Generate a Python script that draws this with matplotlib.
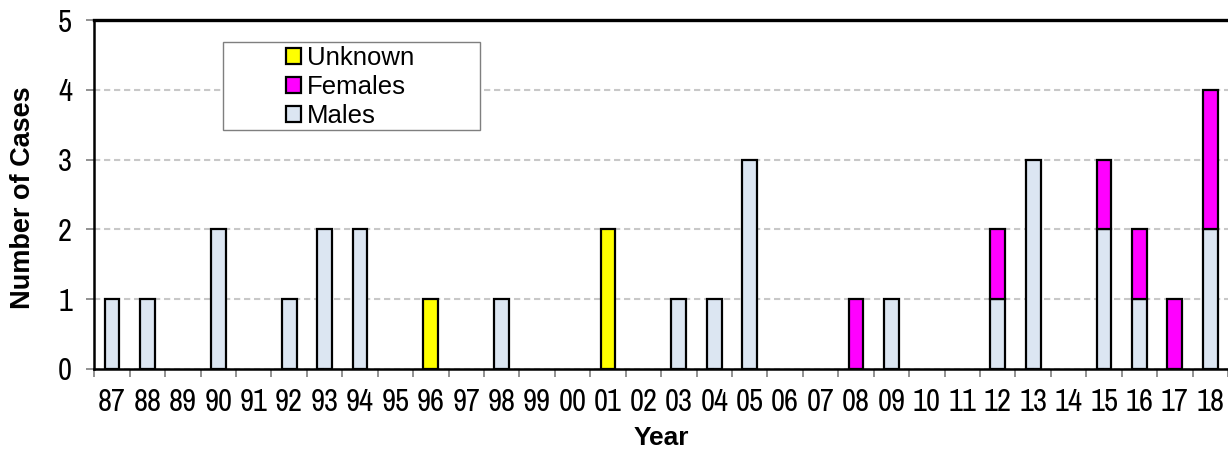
import matplotlib
matplotlib.use("Agg")
import matplotlib.pyplot as plt
import numpy as np
from matplotlib.patches import Rectangle, Patch

years = ['87', '88', '89', '90', '91', '92', '93', '94', '95', '96', '97', '98', '99', '00',
         '01', '02', '03', '04', '05', '06', '07', '08', '09', '10', '11', '12', '13', '14',
         '15', '16', '17', '18']
males = [1, 1, 0, 2, 0, 1, 2, 2, 0, 0, 0, 1, 0, 0, 0, 0, 1, 1, 3, 0, 0, 0, 1, 0, 0, 1, 3, 0, 2, 1, 0, 2]
females = [0, 0, 0, 0, 0, 0, 0, 0, 0, 0, 0, 0, 0, 0, 0, 0, 0, 0, 0, 0, 0, 1, 0, 0, 0, 1, 0, 0, 1, 1, 1, 2]
unknown = [0, 0, 0, 0, 0, 0, 0, 0, 0, 1, 0, 0, 0, 0, 2, 0, 0, 0, 0, 0, 0, 0, 0, 0, 0, 0, 0, 0, 0, 0, 0, 0]

C_M = '#DCE6F2'
C_F = '#FF00FF'
C_U = '#FFFF00'

narrow = ['Archivo Narrow', 'Liberation Sans', 'DejaVu Sans']
arial = ['Liberation Sans', 'DejaVu Sans']

fig = plt.figure(figsize=(12.28, 4.49), dpi=100)
ax = fig.add_axes([94.3 / 1228, 80 / 449, (1228 - 94.3) / 1228, 349 / 449])

x = np.arange(len(years))
m = np.array(males, float)
f = np.array(females, float)
u = np.array(unknown, float)
w = 0.42
lw = 1.6

sel = m > 0
ax.bar(x[sel], m[sel], width=w, color=C_M, edgecolor='black', linewidth=lw, zorder=3)
sel = f > 0
ax.bar(x[sel], f[sel], width=w, bottom=m[sel], color=C_F, edgecolor='black', linewidth=lw, zorder=3)
sel = u > 0
ax.bar(x[sel], u[sel], width=w, bottom=(m + f)[sel], color=C_U, edgecolor='black', linewidth=lw, zorder=3)

ax.set_xlim(-0.5, len(years) - 0.5)
ax.set_ylim(0, 5)
ax.set_yticks(range(0, 6))
ax.set_xticks(x)
ax.set_xticklabels(years)
ax.set_xticks(np.arange(len(years) + 1) - 0.5, minor=True)
ax.tick_params(axis='x', which='major', length=0, pad=14)
ax.tick_params(axis='x', which='minor', length=6, width=1.2, color='#7F7F7F', direction='out')
ax.tick_params(axis='y', length=6, width=1.2, color='#7F7F7F', pad=10)
for lab in ax.get_xticklabels() + ax.get_yticklabels():
    lab.set_family(narrow)
    lab.set_fontsize(22)

ax.yaxis.grid(True, linestyle=(0, (3, 1.8)), color='#C8C8C8', linewidth=1.5, zorder=0)
ax.set_axisbelow(True)

ax.spines['right'].set_visible(False)
ax.spines['top'].set_linewidth(2.4)
ax.spines['left'].set_linewidth(1.8)
ax.spines['bottom'].set_linewidth(1.8)
for s in ax.spines.values():
    s.set_zorder(4)

ax.set_xlabel('Year', family=arial, fontsize=19, fontweight='bold', labelpad=7)
fig.text(23 / 1228, 1 - 198 / 449, 'Number of Cases', rotation=90, ha='center', va='center',
         family=arial, fontsize=19.5, fontweight='bold')

# legend box
fig.patches.append(Rectangle((223 / 1228, 1 - 130 / 449), 257 / 1228, 88 / 449,
                             transform=fig.transFigure, facecolor='white',
                             edgecolor='#7F7F7F', linewidth=1.0, zorder=5))
handles = [Patch(facecolor=C_U, edgecolor='black', linewidth=1.6),
           Patch(facecolor=C_F, edgecolor='black', linewidth=1.6),
           Patch(facecolor=C_M, edgecolor='black', linewidth=1.6)]
leg = fig.legend(handles, ['Unknown', 'Females', 'Males'], loc='upper left',
                 bbox_to_anchor=(286 / 1228, 1 - 46 / 449), bbox_transform=fig.transFigure,
                 frameon=False, borderpad=0, borderaxespad=0, handlelength=0.6,
                 handleheight=0.6, handletextpad=0.22, labelspacing=0.2,
                 prop={'family': arial, 'size': 18.5})
leg.set_zorder(6)

fig.savefig('out.png', dpi=100)
